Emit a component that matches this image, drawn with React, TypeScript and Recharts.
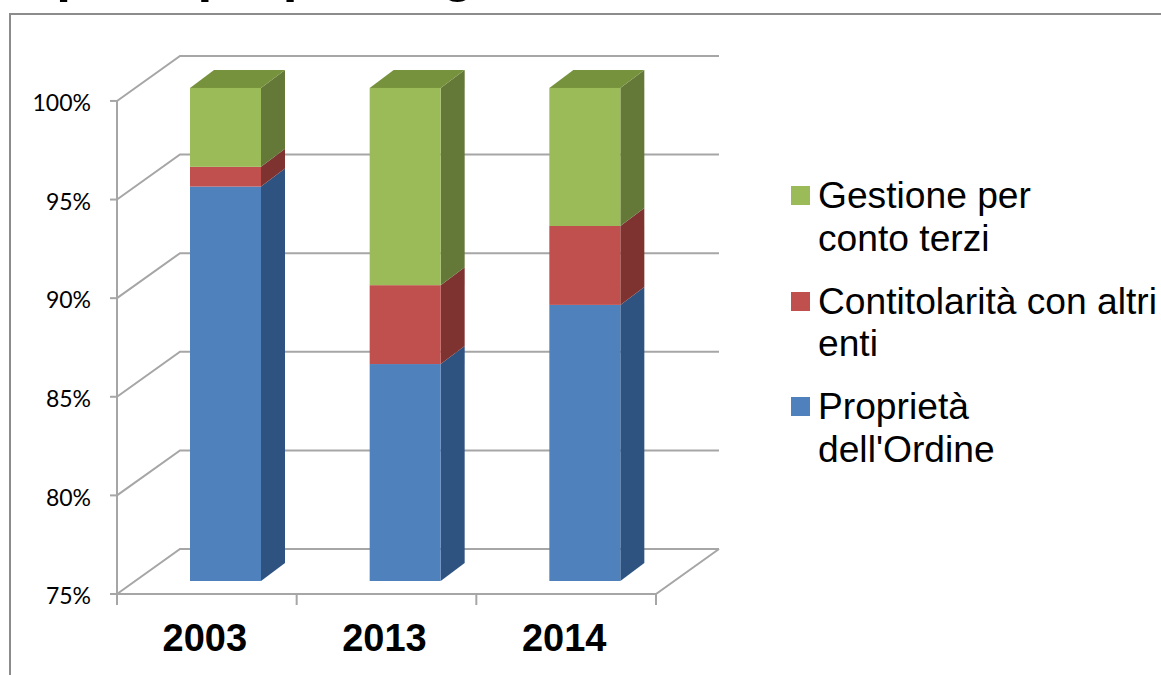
import React from 'react'
import { BarChart, Bar, XAxis, YAxis, CartesianGrid, Legend } from 'recharts'

const YEARS = ['2003', '2013', '2014']
const PROPRIETA = [95, 86, 89]
const CONTITOLARITA = [1, 4, 4]
const GESTIONE = [4, 10, 7]
const Y_TICKS = [75, 80, 85, 90, 95, 100]

const GRID_COLOR = '#a6a6a6'
const chartData = YEARS.map((year, i) => ({
  year,
  proprieta: PROPRIETA[i],
  contitolarita: CONTITOLARITA[i],
  gestione: GESTIONE[i],
}))

// pseudo 3D offsets
const WALL_DX = 63
const WALL_DY = 45
const WALL_HEIGHT = 493
const BAR_DX = 19
const BAR_DY = 13
const SIDE_DX = 24
const SIDE_DY = 18

// one stacked segment: front, side and (optionally) top face
const box3d = (front: string, side: string, top?: string) => (props: any) => {
  const { x, y, width, height } = props
  const fx = x + BAR_DX
  const fy = y - BAR_DY
  const rx = fx + width
  return (
    <g>
      <polygon
        points={`${rx},${fy} ${rx + SIDE_DX},${fy - SIDE_DY} ${rx + SIDE_DX},${fy + height - SIDE_DY} ${rx},${fy + height}`}
        fill={side}
      />
      {top && (
        <polygon
          points={`${fx},${fy} ${fx + SIDE_DX},${fy - SIDE_DY} ${rx + SIDE_DX},${fy - SIDE_DY} ${rx},${fy}`}
          fill={top}
        />
      )}
      <rect x={fx} y={fy} width={width} height={height} fill={front} />
    </g>
  )
}

// wall gridline: diagonal on the side wall, then straight along the back wall
const wallLine = (props: any) => {
  const { x1, x2, y1, index } = props
  const isFloor = y1 > 550
  return (
    <g key={`wall-${index}`} fill="none" stroke={GRID_COLOR} strokeWidth={2}>
      <polyline points={`${x1},${y1} ${x1 + WALL_DX},${y1 - WALL_DY} ${x2 + WALL_DX},${y1 - WALL_DY}`} />
      {isFloor && (
        <polyline
          points={`${x2 + WALL_DX},${y1 - WALL_DY} ${x2},${y1} ${x1},${y1} ${x1},${y1 - WALL_HEIGHT}`}
        />
      )}
    </g>
  )
}

const YearTick = (props: any) => {
  const { x, y, index, payload } = props
  const band = 179.67
  return (
    <g>
      <line x1={x - band / 2} x2={x - band / 2} y1={y - 8} y2={y + 3} stroke={GRID_COLOR} strokeWidth={2} />
      {index === YEARS.length - 1 && (
        <line x1={x + band / 2} x2={x + band / 2} y1={y - 8} y2={y + 3} stroke={GRID_COLOR} strokeWidth={2} />
      )}
      <text
        x={x - 2}
        y={y + 49}
        textAnchor="middle"
        fontFamily="Liberation Sans"
        fontWeight="bold"
        fontSize={38}
        fill="#000"
      >
        {payload.value}
      </text>
    </g>
  )
}

const LEGEND_ITEMS = [
  { color: '#9bbb59', lines: ['Gestione per', 'conto terzi'] },
  { color: '#c0504d', lines: ['Contitolarità con altri', 'enti'] },
  { color: '#4f81bd', lines: ['Proprietà', "dell'Ordine"] },
]

const LegendBox = () => (
  <div style={{ position: 'absolute', left: 791, top: 174, fontFamily: 'Liberation Sans', fontSize: 37.2, lineHeight: '42.5px', color: '#000' }}>
    {LEGEND_ITEMS.map((item) => (
      <div key={item.color} style={{ position: 'relative', paddingLeft: 27, marginBottom: 20.5, whiteSpace: 'nowrap' }}>
        <span style={{ position: 'absolute', left: 0, top: 12, width: 19, height: 19, background: item.color }} />
        {item.lines.map((line) => (
          <div key={line}>{line}</div>
        ))}
      </div>
    ))}
  </div>
)

export default function App() {
  return (
    <div style={{ position: 'absolute', left: 0, top: 0, width: 1161, height: 675, background: '#fff', overflow: 'hidden' }}>
      {/* title cut off by the top edge, only the descenders show */}
      <div style={{ position: 'absolute', left: 10, top: -57, fontFamily: 'Liberation Sans', fontWeight: 'bold', fontSize: 53, lineHeight: '60px', whiteSpace: 'nowrap' }}>
        Tipo di proprietà/gestione
      </div>
      {/* frame */}
      <div style={{ position: 'absolute', left: 9, top: 13, width: 1152, height: 662, borderLeft: '2px solid #8c8c8c', borderTop: '2px solid #8c8c8c', boxSizing: 'border-box' }} />
      {/* domain runs past 100 so the top faces are not clipped by the plot area */}
      <BarChart
        width={1161}
        height={675}
        data={chartData}
        margin={{ top: 61.5, right: 505, bottom: 0, left: 0 }}
        barSize={71}
        style={{ position: 'absolute', left: 0, top: 0 }}
      >
        <CartesianGrid vertical={false} horizontal={wallLine} syncWithTicks />
        <XAxis dataKey="year" axisLine={false} tickLine={false} tick={<YearTick />} interval={0} height={81} />
        <YAxis
          type="number"
          domain={[75, 102]}
          ticks={Y_TICKS}
          allowDataOverflow
          width={117}
          tickFormatter={(v: number) => `${v}%`}
          axisLine={false}
          tickLine={{ stroke: GRID_COLOR, strokeWidth: 2 }}
          tickSize={7}
          tickMargin={19}
          tick={{ fontFamily: 'Lato', fontSize: 23, fill: '#000', dy: 2 }}
        />
        <Bar dataKey="proprieta" stackId="a" isAnimationActive={false} shape={box3d('#4f81bd', '#2f5380')} />
        <Bar dataKey="contitolarita" stackId="a" isAnimationActive={false} shape={box3d('#c0504d', '#7f3331')} />
        <Bar dataKey="gestione" stackId="a" isAnimationActive={false} shape={box3d('#9bbb59', '#647838', '#76923c')} />
        <Legend content={<LegendBox />} wrapperStyle={{ position: 'static' }} />
      </BarChart>
    </div>
  )
}
